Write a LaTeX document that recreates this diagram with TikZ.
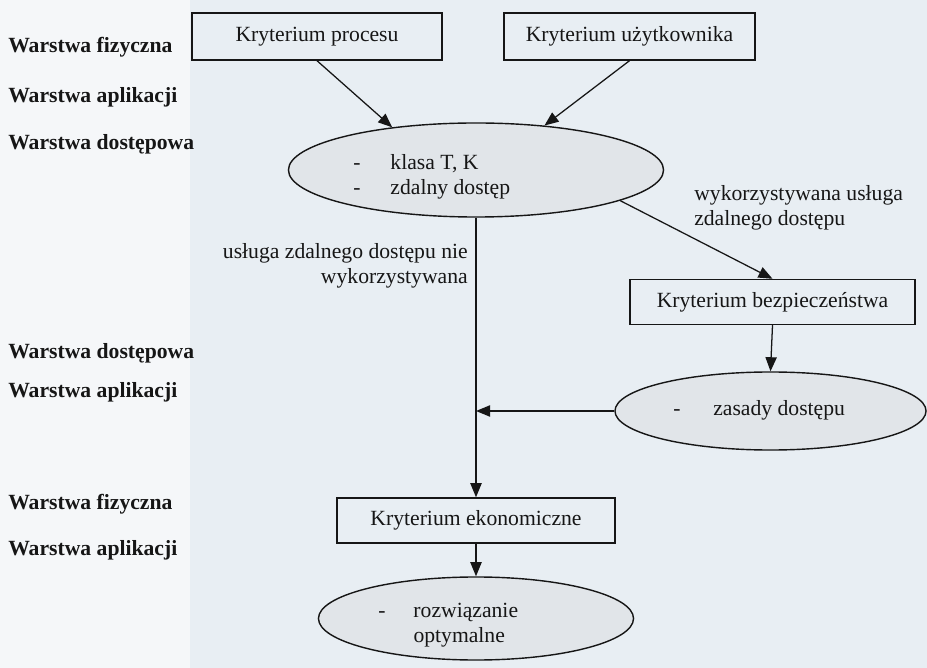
\documentclass[tikz,border=0pt]{standalone}
\usepackage{fontspec}
\setmainfont{Liberation Serif}
\usetikzlibrary{arrows.meta,shapes.geometric}
\definecolor{paper}{RGB}{232,238,243}
\definecolor{paperLeft}{RGB}{245,247,249}
\definecolor{ink}{RGB}{22,22,22}
\definecolor{blob}{RGB}{225,229,233}
\newcommand\diagfont{\fontsize{15.4}{17.5}\selectfont}

\begin{document}
\begin{tikzpicture}
[x=0.025cm,y=-0.025cm,
  boxDecorate/.style={shape=rectangle,draw=ink,line width=1pt,inner sep=0pt,text=ink,font=\diagfont},%
  ellipseDecorate/.style={shape=ellipse,draw=ink,line width=1pt,fill=blob,inner sep=0pt},%
  arrowDecorate/.style={-{Triangle[length=10pt,width=8pt]},draw=ink,line width=0.9pt},%
  layerDecorate/.style={anchor=west,inner sep=0pt,text=ink,font=\diagfont\bfseries},%
  textDecorate/.style={inner sep=0pt,text=ink,font=\diagfont}]
%% paper
\fill[paper] (0,0) rectangle (927,668);
\fill[paperLeft] (0,0) rectangle (190,668);
\useasboundingbox (0,0) rectangle (927,668);
%% layer names on the left
\foreach \nodename/\y/\txt in {layA/47/Warstwa fizyczna, layB/97/Warstwa aplikacji,
  layC/144/Warstwa dostępowa, layD/353/Warstwa dostępowa, layE/392/Warstwa aplikacji,
  layF/504/Warstwa fizyczna, layG/550/Warstwa aplikacji}
{
  \node (\nodename) at (8,\y) [layerDecorate] {\txt};
}
%% criteria boxes
\node (proc) at (317,36.5) [boxDecorate,minimum width=6.25cm,minimum height=1.175cm] {Kryterium procesu};
\node (user) at (629.5,36.5) [boxDecorate,minimum width=6.275cm,minimum height=1.175cm] {Kryterium użytkownika};
\node (bezp) at (772.5,302) [boxDecorate,minimum width=7.125cm,minimum height=1.125cm] {Kryterium bezpieczeństwa};
\node (eco) at (476,520.5) [boxDecorate,minimum width=6.95cm,minimum height=1.125cm] {Kryterium ekonomiczne};
%% result ellipses
\node (ellA) at (476,170) [ellipseDecorate,minimum width=9.375cm,minimum height=2.35cm] {};
\node (ellB) at (770.5,411) [ellipseDecorate,minimum width=7.775cm,minimum height=1.95cm] {};
\node (ellC) at (476,618.5) [ellipseDecorate,minimum width=7.875cm,minimum height=2.075cm] {};
\node (ellAtxt) at (353,177) [textDecorate,anchor=west]
  {\begin{tabular}{@{}l@{\hspace{0.75cm}}l@{}}-&klasa T, K\\-&zdalny dostęp\end{tabular}};
\node (ellBtxt) at (673,411) [textDecorate,anchor=west]
  {\begin{tabular}{@{}l@{\hspace{0.82cm}}l@{}}-&zasady dostępu\end{tabular}};
\node (ellCtxt) at (378,625) [textDecorate,anchor=west]
  {\begin{tabular}{@{}l@{\hspace{0.7cm}}l@{}}-&rozwiązanie\\&optymalne\end{tabular}};
%% branch labels
\node (usedLbl) at (694,208) [textDecorate,anchor=west,align=left] {wykorzystywana usługa\\zdalnego dostępu};
\node (notUsedLbl) at (468,266) [textDecorate,anchor=east,align=right] {usługa zdalnego dostępu nie\\wykorzystywana};
%% connectors
\coordinate (join) at (eco.north |- ellB.west);
\draw[arrowDecorate] (proc.south) -- (ellA.153);
\draw[arrowDecorate] (user.south) -- (ellA.33);
\draw[arrowDecorate] (ellA.-12) -- (bezp.north);
\draw[arrowDecorate] (bezp.south) -- (ellB.north);
\draw[arrowDecorate] (ellA.south) -- (eco.north);
\draw[arrowDecorate] (ellB.west) -- (join);
\draw[arrowDecorate] (eco.south) -- (ellC.north);
\end{tikzpicture}
\end{document}
